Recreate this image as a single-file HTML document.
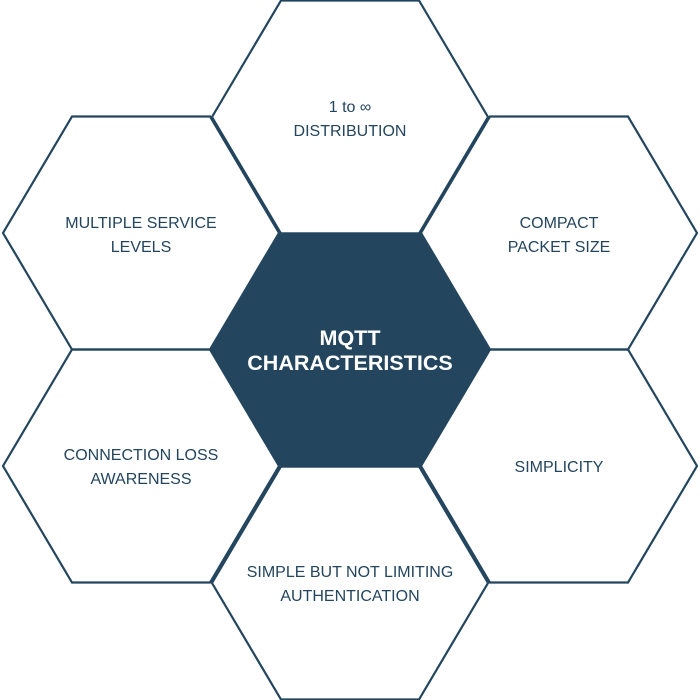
<!DOCTYPE html>
<html><head><meta charset="utf-8"><style>
html,body{margin:0;padding:0;background:#fff;width:700px;height:700px;overflow:hidden}
svg text{font-family:"Liberation Sans",sans-serif;}
</style></head><body>
<svg width="700" height="700" viewBox="0 0 700 700">
<defs>
<polygon id="h" points="-69,-116.5 69,-116.5 138,0 69,116.5 -69,116.5 -138,0"/>
</defs>
<g fill="none" stroke="#23455d" stroke-width="2.2">
<use href="#h" x="350" y="117"/>
<use href="#h" x="141" y="233"/>
<use href="#h" x="559" y="233"/>
<use href="#h" x="141" y="466"/>
<use href="#h" x="559" y="466"/>
<use href="#h" x="350" y="583"/>
</g>
<use href="#h" x="350" y="350" fill="#23455d" stroke="#23455d" stroke-width="2.2"/>
<g fill="#23455d" font-size="16" text-anchor="middle">
<text x="350" y="112">1 to ∞</text>
<text x="350" y="136">DISTRIBUTION</text>
<text x="141" y="228">MULTIPLE SERVICE</text>
<text x="141" y="252">LEVELS</text>
<text x="559" y="228">COMPACT</text>
<text x="559" y="252">PACKET SIZE</text>
<text x="141" y="460">CONNECTION LOSS</text>
<text x="141" y="484">AWARENESS</text>
<text x="559" y="472">SIMPLICITY</text>
<text x="350" y="577">SIMPLE BUT NOT LIMITING</text>
<text x="350" y="601">AUTHENTICATION</text>
</g>
<g fill="#fff" font-size="21.5" font-weight="bold" text-anchor="middle">
<text x="350" y="345">MQTT</text>
<text x="350" y="370">CHARACTERISTICS</text>
</g>
</svg>
</body></html>
